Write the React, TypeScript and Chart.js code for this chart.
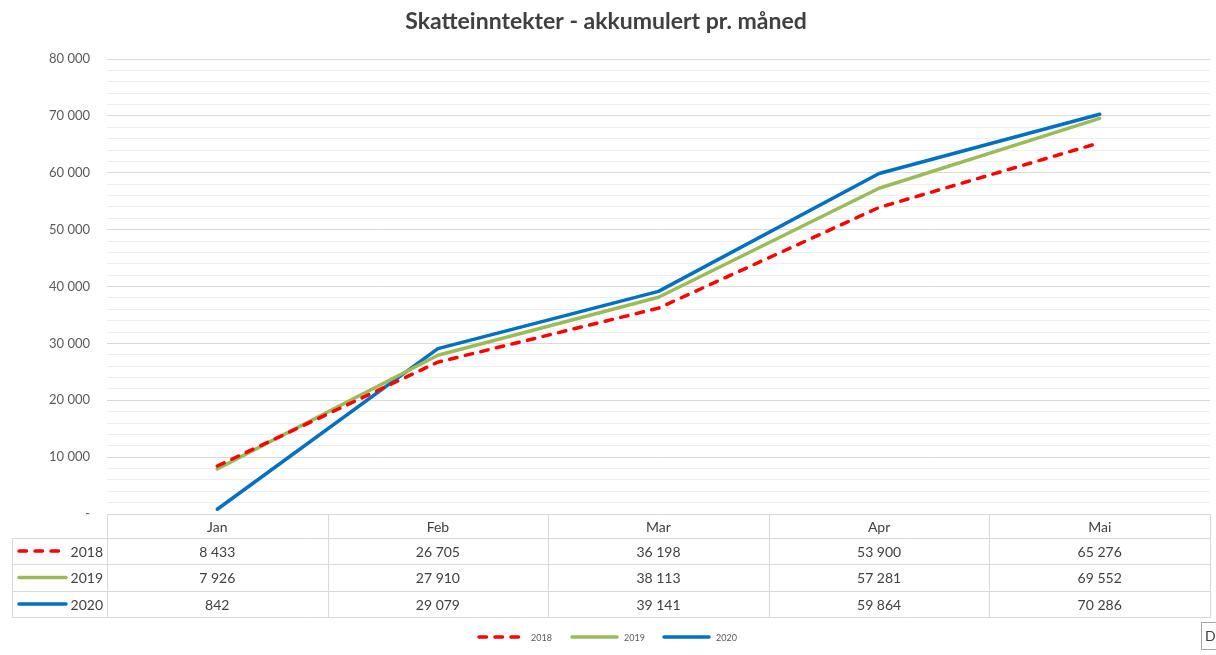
import React, { useEffect, useRef } from "react";
import { Chart, registerables } from "chart.js";
Chart.register(...registerables);

const titleText = "Skatteinntekter - akkumulert pr. måned";
const categories = ["Jan", "Feb", "Mar", "Apr", "Mai"];
const seriesLabels = ["2018", "2019", "2020"];
const values2018 = [8433, 26705, 36198, 53900, 65276];
const values2019 = [7926, 27910, 38113, 57281, 69552];
const values2020 = [842, 29079, 39141, 59864, 70286];
const yMin = 0;
const yMax = 80000;
const yMajorStep = 10000;
const yMinorStep = 2000;

const seriesColors = ["#FF0000", "#9BBB59", "#0070C0"];
const seriesDash: number[][] = [[7.5, 8.5], [], []];
const FONT = "Lato, 'Open Sans', sans-serif";

const fmt = (n: number) => String(n).replace(/\B(?=(\d{3})+(?!\d))/g, " ");

const tablePlugin = {
  id: "tablePlugin",
  afterDraw(chart: any) {
    const ctx: CanvasRenderingContext2D = chart.ctx;
    const area = chart.chartArea;
    const xs = chart.scales.x;
    const allValues = [values2018, values2019, values2020];
    ctx.save();

    // title
    ctx.fillStyle = "#404040";
    ctx.font = `bold 23px ${FONT}`;
    ctx.textAlign = "center";
    ctx.textBaseline = "middle";
    ctx.fillText(titleText, 606, 22);

    // table geometry
    const leftX = 12;
    const top = Math.round(area.bottom);
    const rowYs = [top, top + 24, top + 50, top + 77, top + 103];
    const colW = (area.right - area.left) / categories.length;
    ctx.strokeStyle = "#d9d9d9";
    ctx.lineWidth = 1;
    ctx.beginPath();
    ctx.moveTo(area.left, rowYs[0] + 0.5);
    ctx.lineTo(area.right, rowYs[0] + 0.5);
    for (let r = 1; r < rowYs.length; r++) {
      ctx.moveTo(leftX, rowYs[r] + 0.5);
      ctx.lineTo(area.right, rowYs[r] + 0.5);
    }
    for (let c = 0; c <= categories.length; c++) {
      const x = Math.round(area.left + c * colW) + 0.5;
      ctx.moveTo(x, rowYs[0]);
      ctx.lineTo(x, rowYs[rowYs.length - 1] + 1);
    }
    ctx.moveTo(leftX + 0.5, rowYs[1]);
    ctx.lineTo(leftX + 0.5, rowYs[rowYs.length - 1] + 1);
    ctx.stroke();

    ctx.fillStyle = "#404040";
    ctx.font = `14px ${FONT}`;
    ctx.textAlign = "center";
    ctx.textBaseline = "middle";
    categories.forEach((cat, i) => {
      const x = xs.getPixelForValue(i);
      ctx.fillText(cat, x, (rowYs[0] + rowYs[1]) / 2 + 1);
      allValues.forEach((vals, s) => {
        ctx.fillText(fmt(vals[i]), x, (rowYs[s + 1] + rowYs[s + 2]) / 2 + 1);
      });
    });

    seriesLabels.forEach((lab, s) => {
      const y = (rowYs[s + 1] + rowYs[s + 2]) / 2;
      ctx.strokeStyle = seriesColors[s];
      ctx.lineWidth = 3.5;
      ctx.lineCap = "round";
      ctx.setLineDash(seriesDash[s]);
      ctx.beginPath();
      ctx.moveTo(19, y);
      ctx.lineTo(s === 0 ? 62 : 66, y);
      ctx.stroke();
      ctx.setLineDash([]);
      ctx.fillStyle = "#404040";
      ctx.textAlign = "right";
      ctx.fillText(lab, 103, y + 1);
    });

    const legY = 637;
    const legStarts = [479, 572, 664];
    ctx.font = `9px ${FONT}`;
    ctx.textAlign = "left";
    seriesLabels.forEach((lab, s) => {
      const x0 = legStarts[s];
      ctx.strokeStyle = seriesColors[s];
      ctx.lineWidth = 3.5;
      ctx.lineCap = "round";
      ctx.setLineDash(seriesDash[s]);
      ctx.beginPath();
      ctx.moveTo(x0, legY);
      ctx.lineTo(x0 + 45, legY);
      ctx.stroke();
      ctx.setLineDash([]);
      ctx.fillStyle = "#595959";
      ctx.fillText(lab, x0 + 52, legY + 1);
    });

    ctx.fillStyle = "#ffffff";
    ctx.strokeStyle = "#a6a6a6";
    ctx.lineWidth = 1;
    ctx.fillRect(1201, 622, 20, 28);
    ctx.strokeRect(1201.5, 622.5, 20, 27);
    ctx.fillStyle = "#404040";
    ctx.font = `14px ${FONT}`;
    ctx.fillText("D", 1205, 636);
    ctx.restore();
  },
};

export default function App() {
  const ref = useRef<HTMLCanvasElement | null>(null);
  useEffect(() => {
    if (!ref.current) return;
    const allValues = [values2018, values2019, values2020];
    const chart = new Chart(ref.current, {
      type: "line",
      data: {
        labels: categories,
        datasets: seriesLabels.map((lab, s) => ({
          label: lab,
          data: allValues[s],
          borderColor: seriesColors[s],
          backgroundColor: seriesColors[s],
          borderWidth: 3.5,
          borderDash: seriesDash[s],
          borderCapStyle: "round" as const,
          borderJoinStyle: "round" as const,
          pointRadius: 0,
          tension: 0,
          fill: false,
        })),
      },
      options: {
        responsive: false,
        animation: false,
        layout: { padding: { left: 0, right: 6, top: 59, bottom: 141 } },
        plugins: {
          legend: { display: false },
          title: { display: false },
          tooltip: { enabled: false },
        },
        scales: {
          x: {
            display: false,
            offset: true,
          },
          y: {
            min: yMin,
            max: yMax,
            afterFit: (s: any) => {
              s.width = 107;
            },
            border: { display: false },
            grid: {
              drawTicks: false,
              color: (c: any) =>
                c.tick && c.tick.value % yMajorStep === 0 ? "#d9d9d9" : "#eeeeee",
              lineWidth: 1,
            },
            ticks: {
              stepSize: yMinorStep,
              autoSkip: false,
              padding: 17,
              color: "#595959",
              font: { family: FONT, size: 13 },
              callback: (v: any) => {
                const n = Number(v);
                if (n % yMajorStep !== 0) return "";
                return n === 0 ? "-" : fmt(n);
              },
            },
          },
        },
      },
      plugins: [tablePlugin],
    });
    return () => chart.destroy();
  }, []);
  return (
    <div style={{ position: "absolute", left: 0, top: 0, width: 1216, height: 655, background: "#fff" }}>
      <canvas ref={ref} width={1216} height={655} />
    </div>
  );
}
